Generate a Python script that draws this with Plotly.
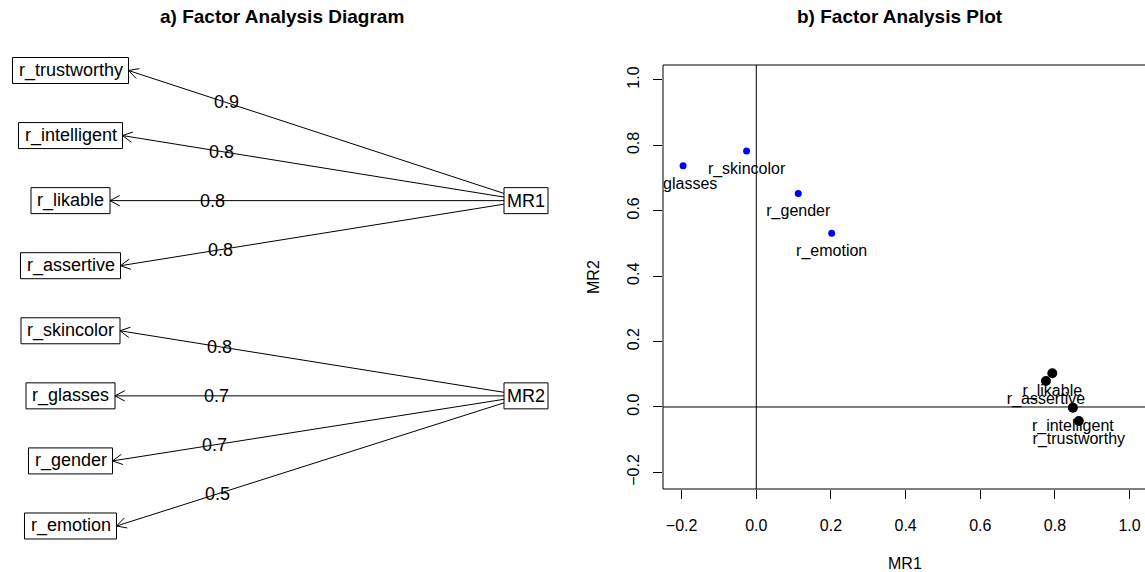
import math
import plotly.graph_objects as go

# ---- data -------------------------------------------------------------
variables = ["r_trustworthy", "r_intelligent", "r_likable", "r_assertive",
             "r_skincolor", "r_glasses", "r_gender", "r_emotion"]
mr1_loadings = [0.864, 0.848, 0.793, 0.776, -0.026, -0.196, 0.1125, 0.202]
mr2_loadings = [-0.043, -0.002, 0.103, 0.0795, 0.783, 0.738, 0.653, 0.531]
factors = ["MR1", "MR2"]
factor_of_variable = [0, 0, 0, 0, 1, 1, 1, 1]
factor_colors = ["black", "blue"]
factor_marker_sizes = [10, 7]
tick_values = [-0.2, 0.0, 0.2, 0.4, 0.6, 0.8, 1.0]

FONT = "Liberation Sans, Arial, Helvetica, sans-serif"
W, H = 1145, 572

# Arial / Liberation Sans advance widths (per 1000 em) for box sizing
CHAR_W = {"r": 333, "_": 556, "t": 278, "u": 556, "s": 500, "w": 722, "o": 556,
          "h": 556, "y": 500, "i": 222, "n": 556, "e": 556, "l": 222, "g": 556,
          "k": 500, "a": 556, "b": 556, "c": 500, "v": 500, "m": 833, "d": 556,
          "M": 833, "R": 722, "1": 556, "2": 556}


def text_width(s, size):
    return sum(CHAR_W.get(ch, 556) for ch in s) * size / 1000.0


fig = go.Figure()

# ---- a) path diagram (left panel, pixel-like coordinates) -------------
diag_font = 18
var_cx = 70.5
row_top, row_step = 70.5, 65.07
box_h = 26
factor_cx = 526
factor_rows = [2, 5]

shapes = []
annotations = []


def add_line(x0, y0, x1, y1):
    shapes.append(dict(type="line", xref="x2", yref="y2", x0=x0, y0=y0, x1=x1, y1=y1,
                       line=dict(color="black", width=1)))


def add_box(cx, cy, label, pad):
    w = text_width(label, diag_font) + pad
    shapes.append(dict(type="rect", xref="x2", yref="y2",
                       x0=cx - w / 2, x1=cx + w / 2, y0=cy - box_h / 2, y1=cy + box_h / 2,
                       line=dict(color="black", width=1), fillcolor="rgba(0,0,0,0)"))
    annotations.append(dict(xref="x2", yref="y2", x=cx, y=cy, text=label, showarrow=False,
                            font=dict(family=FONT, size=diag_font, color="black"),
                            xanchor="center", yanchor="middle"))
    return w


factor_cy = [row_top + row_step * r for r in factor_rows]
factor_w = [add_box(factor_cx, factor_cy[k], f, 6) for k, f in enumerate(factors)]

for i, name in enumerate(variables):
    cy = row_top + row_step * i
    w = add_box(var_cx, cy, name, 12)
    k = factor_of_variable[i]
    loading = mr1_loadings[i] if k == 0 else mr2_loadings[i]
    tx, ty = var_cx + w / 2, cy
    fx, fy = factor_cx, factor_cy[k]
    ex = fx - factor_w[k] / 2
    ey = ty + (fy - ty) * (ex - tx) / (fx - tx)
    add_line(ex, ey, tx, ty)
    # open arrowhead at the variable end
    dx, dy = tx - ex, ty - ey
    n = math.hypot(dx, dy)
    ux, uy = dx / n, dy / n
    L, ang = 11, math.radians(28)
    for s in (1, -1):
        ca, sa = math.cos(s * ang), math.sin(s * ang)
        rx, ry = ux * ca - uy * sa, ux * sa + uy * ca
        add_line(tx, ty, tx - L * rx, ty - L * ry)
    # loading label along the path
    lx, ly = tx + 0.26 * (ex - tx), ty + 0.26 * (ey - ty)
    annotations.append(dict(xref="x2", yref="y2", x=lx, y=ly, text=f"{round(loading, 1):.1f}",
                            showarrow=False, font=dict(family=FONT, size=diag_font, color="black"),
                            xanchor="center", yanchor="middle"))

# ---- b) loadings plot (right panel) -----------------------------------
for k in range(len(factors)):
    idx = [i for i in range(len(variables)) if factor_of_variable[i] == k]
    fig.add_trace(go.Scatter(
        x=[mr1_loadings[i] for i in idx], y=[mr2_loadings[i] for i in idx],
        mode="markers", marker=dict(color=factor_colors[k], size=factor_marker_sizes[k]),
        hoverinfo="skip", showlegend=False, cliponaxis=True))

fig.add_trace(go.Scatter(
    x=mr1_loadings, y=mr2_loadings, text=variables, mode="markers+text",
    marker=dict(size=16, color="rgba(0,0,0,0)"), textposition="bottom center",
    textfont=dict(family=FONT, size=16, color="black"),
    hoverinfo="skip", showlegend=False, cliponaxis=True))

# plot frame (left, top, bottom) and reference lines at zero
for (x0, y0, x1, y1) in [(0, 0, 0, 1), (0, 1, 1, 1), (0, 0, 1, 0)]:
    shapes.append(dict(type="line", xref="x domain", yref="y domain",
                       x0=x0, y0=y0, x1=x1, y1=y1, line=dict(color="black", width=1)))
shapes.append(dict(type="line", xref="x", yref="y domain", x0=0, x1=0, y0=0, y1=1,
                   line=dict(color="black", width=1)))
shapes.append(dict(type="line", xref="x domain", yref="y", x0=0, x1=1, y0=0, y1=0,
                   line=dict(color="black", width=1)))

# titles and axis titles
annotations += [
    dict(xref="paper", yref="paper", x=281.5 / W, y=1 - 17 / H, text="<b>a) Factor Analysis Diagram</b>",
         showarrow=False, font=dict(family=FONT, size=19, color="black"), xanchor="center", yanchor="middle"),
    dict(xref="paper", yref="paper", x=900 / W, y=1 - 17 / H, text="<b>b) Factor Analysis Plot</b>",
         showarrow=False, font=dict(family=FONT, size=19, color="black"), xanchor="center", yanchor="middle"),
    dict(xref="paper", yref="paper", x=905 / W, y=1 - 563 / H, text="MR1",
         showarrow=False, font=dict(family=FONT, size=16, color="black"), xanchor="center", yanchor="middle"),
    dict(xref="paper", yref="paper", x=593 / W, y=1 - 277 / H, text="MR2", textangle=-90,
         showarrow=False, font=dict(family=FONT, size=16, color="black"), xanchor="center", yanchor="middle"),
]

axis_common = dict(showgrid=False, zeroline=False, showline=False, ticks="outside", ticklen=9,
                   tickcolor="black", tickwidth=1, tickvals=tick_values, tickformat=".1f",
                   tickfont=dict(family=FONT, size=16, color="black"), fixedrange=True)

fig.update_layout(
    width=W, height=H, margin=dict(l=0, r=0, t=0, b=0),
    paper_bgcolor="white", plot_bgcolor="white",
    xaxis=dict(domain=[663 / W, 1.0], range=[-0.2499, 1.0413], ticklabelstandoff=13, **axis_common),
    yaxis=dict(domain=[1 - 489 / H, 1 - 65 / H], range=[-0.2508, 1.0458], tickangle=-90,
               ticklabelstandoff=8, **axis_common),
    xaxis2=dict(domain=[0, 561.05 / W], range=[0, 561.05], visible=False, fixedrange=True),
    yaxis2=dict(domain=[0, 1], range=[H, 0], visible=False, fixedrange=True, anchor="x2"),
    shapes=shapes, annotations=annotations,
)
# empty trace so the diagram's coordinate system (x2/y2) is instantiated
fig.add_trace(go.Scatter(x=[], y=[], xaxis="x2", yaxis="y2", showlegend=False, hoverinfo="skip"))

fig.write_html("out.html", config={"displayModeBar": False})
